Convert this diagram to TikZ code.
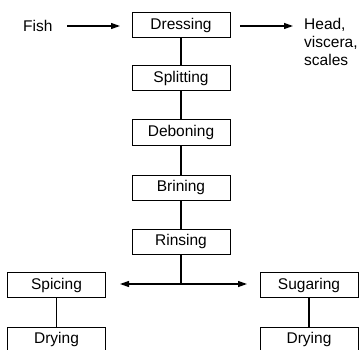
\documentclass[tikz,border=0pt]{standalone}
\usepackage{fontspec}
\setmainfont{Liberation Sans}
\usetikzlibrary{arrows.meta}
\begin{document}
\begin{tikzpicture}[x=1pt,y=-1pt,
  stepbox/.style={draw,line width=1pt,minimum width=98pt,minimum height=25pt,inner sep=0pt,font=\fontsize{15.5}{18}\selectfont},
  lab/.style={font=\fontsize{15.5}{18}\selectfont,inner sep=0pt},
  conn/.style={line width=1.2pt},
  arr/.style={line width=1.2pt,-{Triangle[length=9pt,width=6pt]}}]
\clip (0,0) rectangle (361,350);
\node[stepbox] (dress) at (181,25) {Dressing};
\node[stepbox] (split) at (181,78) {Splitting};
\node[stepbox] (debon) at (181,132.5) {Deboning};
\node[stepbox] (brin) at (181,187.5) {Brining};
\node[stepbox] (rins) at (181,241.5) {Rinsing};
\node[stepbox] (spic) at (56.5,285) {Spicing};
\node[stepbox] (sug) at (309,285) {Sugaring};
\node[stepbox] (dryl) at (56.5,339.5) {Drying};
\node[stepbox] (dryr) at (309,339.5) {Drying};
\node[lab,anchor=west] (fish) at (23,26) {Fish};
\node[lab,anchor=north west,align=left] (head) at (304,18) {Head,\\viscera,\\scales};
\coordinate (fishend) at (67,26);
\coordinate (fishtip) at (120,26);
\coordinate (headstart) at (240,26);
\coordinate (headend) at (293,26);
\coordinate (tee) at (181,284);
\coordinate (tl) at (120,284);
\coordinate (tr) at (247,284);
\draw[arr] (fishend) -- (fishtip);
\draw[arr] (headstart) -- (headend);
\draw[conn] (dress) -- (split);
\draw[conn] (split) -- (debon);
\draw[conn] (debon) -- (brin);
\draw[conn] (brin) -- (rins);
\draw[conn] (rins) -- (tee);
\draw[arr] (tee) -- (tl);
\draw[arr] (tee) -- (tr);
\draw[conn] (spic) -- (dryl);
\draw[conn] (sug) -- (dryr);
\end{tikzpicture}
\end{document}
